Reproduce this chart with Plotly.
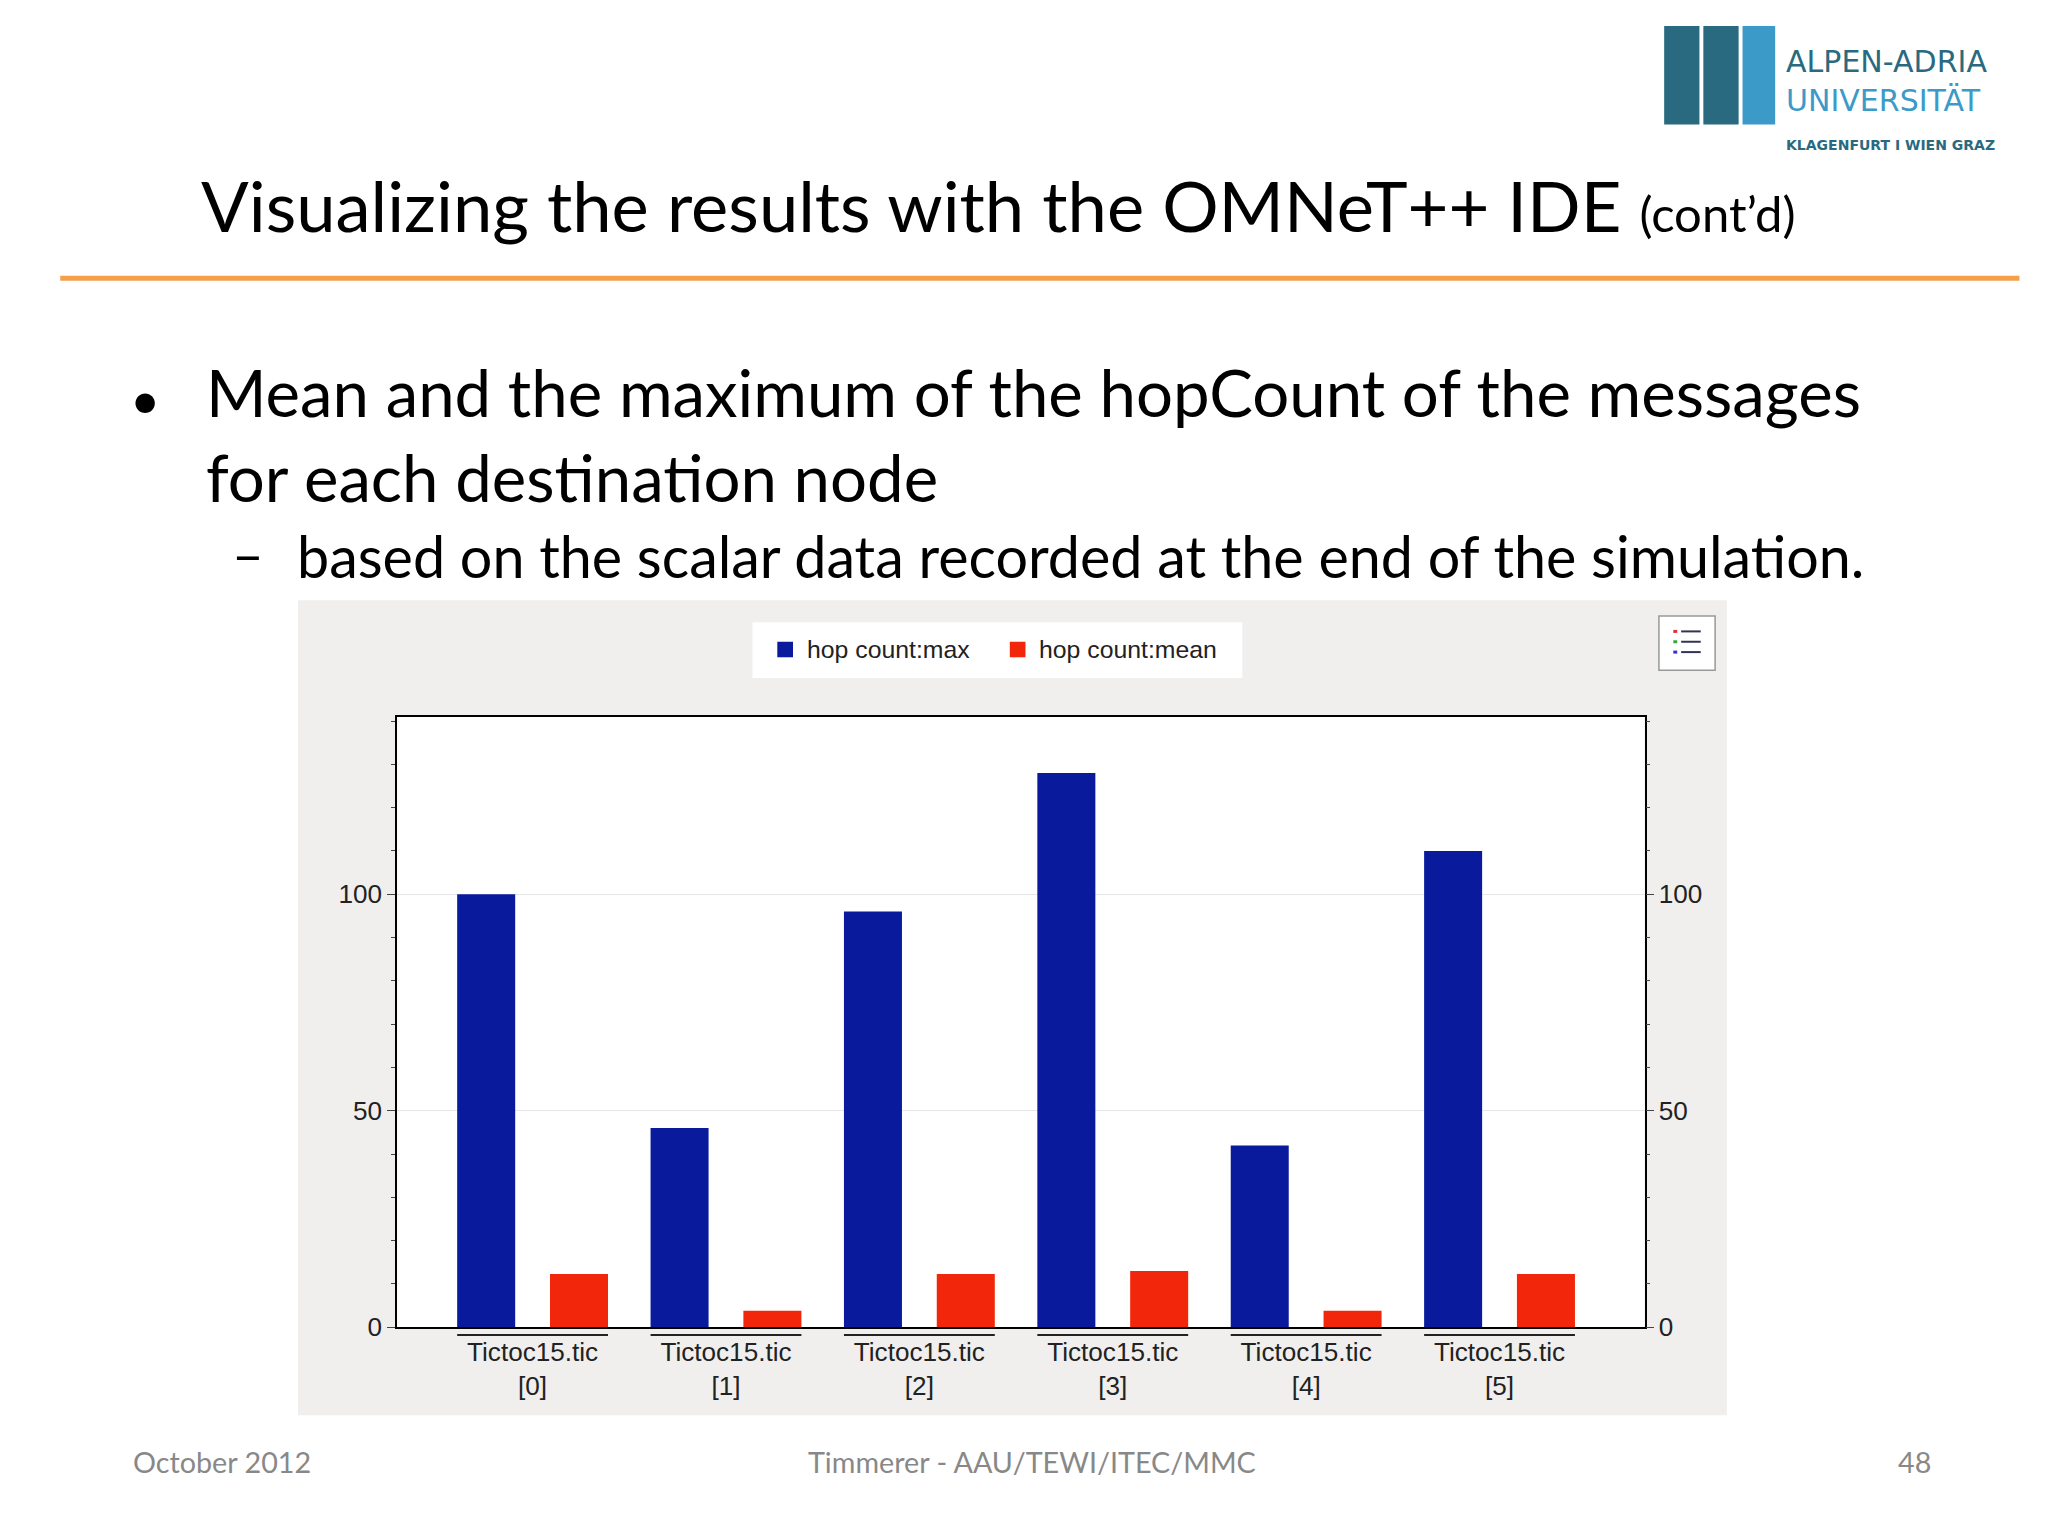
import plotly.graph_objects as go

categories = ["Tictoc15.tic<br>[0]", "Tictoc15.tic<br>[1]", "Tictoc15.tic<br>[2]",
              "Tictoc15.tic<br>[3]", "Tictoc15.tic<br>[4]", "Tictoc15.tic<br>[5]"]
hop_max = [100, 46, 96, 128, 42, 110]
hop_mean = [12.3, 3.8, 12.3, 13, 3.8, 12.3]
y_ticks = [0, 50, 100]

W0, H0 = 1568, 1176
S = 2048 / W0


def px(x, y):
    return x / W0, 1 - y / H0


def fs(v):
    return v * S


idx = list(range(len(categories)))

fig = go.Figure()
fig.add_trace(go.Bar(x=idx, y=hop_max, name="hop count:max", marker_color="#0a1a9c",
                     marker_line_width=0))
fig.add_trace(go.Bar(x=idx, y=hop_mean, name="hop count:mean", marker_color="#f2260a",
                     marker_line_width=0))
# invisible trace for right axis
fig.add_trace(go.Scatter(x=[0], y=[0], yaxis="y2", mode="markers",
                         marker_opacity=0, showlegend=False, hoverinfo="skip"))

font = "Liberation Sans"
x0, y1 = px(298, 1020)
x1, y0 = px(1253, 548)

fig.update_layout(
    width=2048, height=1536, margin=dict(l=0, r=0, t=0, b=0),
    paper_bgcolor="white", plot_bgcolor="white",
    barmode="group", bargap=0.04, bargroupgap=0.375,
    showlegend=False,
    xaxis=dict(domain=[x0, x1], range=[-0.70, 5.75], tickvals=idx, ticktext=categories,
               showgrid=False, zeroline=False, showline=True, linecolor="black",
               linewidth=2, mirror=True, ticks="",
               tickfont=dict(family=font, size=fs(20), color="#222")),
    yaxis=dict(domain=[y1, y0], range=[0, 141], tickvals=y_ticks, showgrid=True,
               gridcolor="#e6e6ea", zeroline=False, showline=True, linecolor="black",
               linewidth=2, mirror=True, ticks="outside", ticklen=8, tickcolor="#444",
               minor=dict(dtick=10, ticks="outside", ticklen=4, tickcolor="#444"),
               tickfont=dict(family=font, size=fs(20), color="#222")),
    yaxis2=dict(overlaying="y", side="right", range=[0, 141], tickvals=y_ticks,
                showgrid=False, zeroline=False, ticks="outside", ticklen=8,
                tickcolor="#444",
                minor=dict(dtick=10, ticks="outside", ticklen=4, tickcolor="#444"),
                tickfont=dict(family=font, size=fs(20), color="#222")),
)

shapes = []
# gray chart panel
a, b = px(222, 458)
c, d = px(1316, 1088)
shapes.append(dict(type="rect", xref="paper", yref="paper", x0=a, y0=d, x1=c, y1=b,
                   fillcolor="#f0efee", line_width=0, layer="below"))
# white plot area on top of the panel
shapes.append(dict(type="rect", xref="paper", yref="paper", x0=x0, y0=y1, x1=x1, y1=y0,
                   fillcolor="white", line_width=0, layer="below"))
# legend box
a, b = px(570, 475)
c, d = px(945, 518)
shapes.append(dict(type="rect", xref="paper", yref="paper", x0=a, y0=d, x1=c, y1=b,
                   fillcolor="white", line_width=0, layer="below"))
# legend squares
for xl, col in [(589, "#0a1a9c"), (767, "#f2260a")]:
    a, b = px(xl, 490)
    c, d = px(xl + 12, 502)
    shapes.append(dict(type="rect", xref="paper", yref="paper", x0=a, y0=d, x1=c, y1=b,
                       fillcolor=col, line_width=0))
# list button
a, b = px(1264, 470)
c, d = px(1307, 512)
shapes.append(dict(type="rect", xref="paper", yref="paper", x0=a, y0=d, x1=c, y1=b,
                   fillcolor="white", line=dict(color="#999", width=1.5)))
for k, col in enumerate(["#d33", "#3a3", "#33c"]):
    yy = 482 + k * 8
    a, b = px(1275, yy)
    c, _ = px(1278, yy)
    shapes.append(dict(type="line", xref="paper", yref="paper", x0=a, x1=c, y0=b, y1=b,
                       line=dict(color=col, width=3)))
    a, _ = px(1281, yy)
    c, _ = px(1296, yy)
    shapes.append(dict(type="line", xref="paper", yref="paper", x0=a, x1=c, y0=b, y1=b,
                       line=dict(color="#335", width=2)))
# category underline bars
for i in idx:
    _, yy = px(0, 1026)
    shapes.append(dict(type="line", xref="x", yref="paper", x0=i - 0.39, x1=i + 0.39,
                       y0=yy, y1=yy, line=dict(color="#222", width=2)))
# orange rule
a, b = px(40, 209)
c, _ = px(1540, 209)
shapes.append(dict(type="line", xref="paper", yref="paper", x0=a, x1=c, y0=b, y1=b,
                   line=dict(color="#f4a04a", width=5)))
# logo
for xa, xb, col in [(1268, 1295, "#2a6a80"), (1298, 1325, "#2a6a80"), (1328, 1353, "#3b9ac8")]:
    a, b = px(xa, 14)
    c, d = px(xb, 90)
    shapes.append(dict(type="rect", xref="paper", yref="paper", x0=a, y0=d, x1=c, y1=b,
                       fillcolor=col, line_width=0))
fig.update_layout(shapes=shapes)

ann = []


def text(x, y, s, size, color="black", anchor="left", fam="Lato", align="left"):
    xx, yy = px(x, y)
    ann.append(dict(xref="paper", yref="paper", x=xx, y=yy, text=s, showarrow=False,
                    xanchor=anchor, yanchor="middle", align=align,
                    font=dict(family=fam, size=fs(size), color=color)))


text(146, 152, "Visualizing the results with the OMNeT++ IDE <span style='font-size:%dpx'>(cont’d)</span>" % fs(38), 54)
text(92, 302, "•", 40)
text(150, 330, "Mean and the maximum of the hopCount of the messages<br>for each destination node", 50)
text(170, 421, "–", 42)
text(220, 423, "based on the scalar data recorded at the end of the simulation.", 44)
text(610, 496, "hop count:max", 19, "#222", fam=font)
text(788, 496, "hop count:mean", 19, "#222", fam=font)
text(94, 1124, "October 2012", 22, "#888")
text(784, 1124, "Timmerer - AAU/TEWI/ITEC/MMC", 22, "#888", "center")
text(1474, 1124, "48", 22, "#888", "right")
text(1360, 70,
     "<span style='color:#2a6a80'>ALPEN-ADRIA</span><br>UNIVERSITÄT<br>"
     "<span style='font-size:%dpx;color:#2a6a80'><b>KLAGENFURT I WIEN GRAZ</b></span>" % fs(11),
     23, "#3b9ac8", fam="DejaVu Sans")
fig.update_layout(annotations=ann)

fig.write_html("out.html")
